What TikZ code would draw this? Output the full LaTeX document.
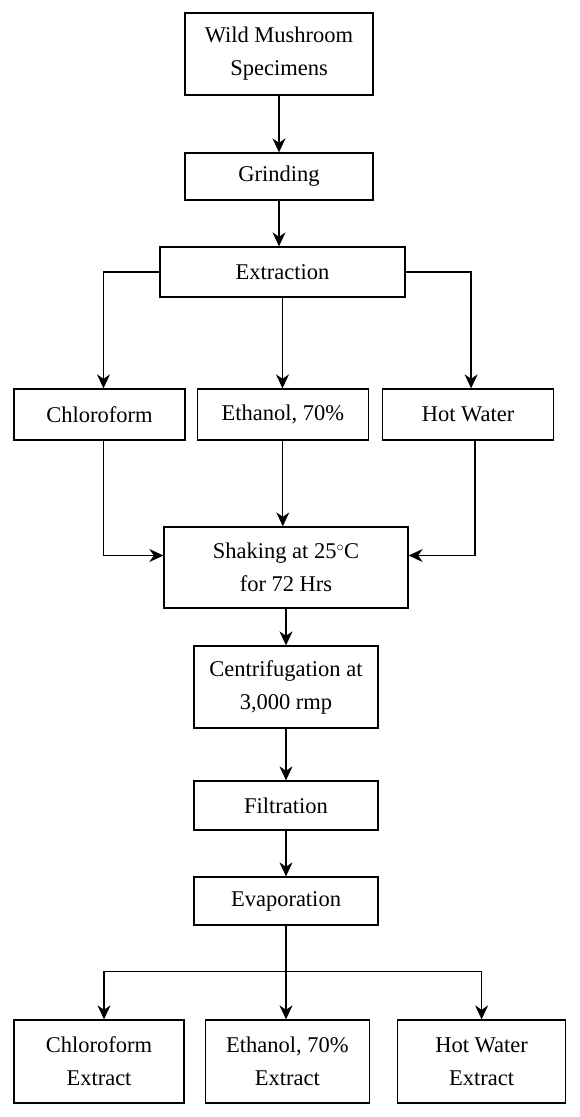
\documentclass[tikz,border=0pt]{standalone}
\usepackage{fontspec}
\setmainfont{Liberation Serif}
\usetikzlibrary{positioning,calc,arrows.meta}

\begin{document}
\begin{tikzpicture}[x=1pt,y=-1pt,
    box/.style={draw, line width=1.3pt, align=center, inner sep=0pt,
        font=\fontsize{22.5}{33}\selectfont},
    flow/.style={line width=1.3pt, -{Stealth[length=14pt,width=13pt,inset=4.5pt]}}]
\useasboundingbox (0,0) rectangle (579,1117);

\node (spec) [box, minimum width=188, minimum height=82] at (279,54) {Wild Mushroom\\Specimens};
\node (grind) [box, minimum width=188, minimum height=47] at (279,176.5) {Grinding};
\node (extr) [box, minimum width=245, minimum height=50] at (282.5,272) {Extraction};

\node (chl) [box, minimum width=171, minimum height=51] at (99.5,414.5) {Chloroform};
\node (eth) [box, right=11pt of chl, minimum width=171, minimum height=51] {Ethanol, 70\%};
\node (hot) [box, right=13pt of eth, minimum width=171, minimum height=51] {Hot Water};

\node (shake) [box, minimum width=244, minimum height=81] at (286,567.5) {Shaking at 25$^\circ$C\\for 72 Hrs};
\node (centr) [box, minimum width=184, minimum height=82] at (286,687) {Centrifugation at\\3,000 rmp};
\node (filt) [box, minimum width=184, minimum height=49] at (286,805.5) {Filtration};
\node (evap) [box, minimum width=184, minimum height=48] at (286,901) {Evaporation};

\node (chlx) [box, minimum width=170, minimum height=83] at (99,1061.5) {Chloroform\\Extract};
\node (ethx) [box, right=20pt of chlx, minimum width=164, minimum height=83] {Ethanol, 70\%\\Extract};
\node (hotx) [box, right=27pt of ethx, minimum width=168, minimum height=83] {Hot Water\\Extract};

% main column
\draw [flow] (spec) -- (grind);
\draw [flow] (grind.south) -- (grind.south |- extr.north);

% three solvents
\draw [flow] (extr.west) -| ([xshift=4pt]chl.north);
\draw [flow] (extr.south) -- (extr.south |- eth.north);
\draw [flow] (extr.east) -| ([xshift=3pt]hot.north);

\draw [flow] ([xshift=4pt]chl.south) |- ($ (shake.west) + (0,-12) $);
\draw [flow] (eth.south) -- (eth.south |- shake.north);
\draw [flow] ([xshift=7pt]hot.south) |- ($ (shake.east) + (0,-12) $);

\draw [flow] (shake) -- (centr);
\draw [flow] (centr) -- (filt);
\draw [flow] (filt) -- (evap);

% split into extracts
\coordinate (split) at ($ (evap.south) + (0,46) $);
\draw [line width=1.3pt] (evap.south) -- (split);
\draw [flow] (split) -- (split |- ethx.north);
\draw [flow] (split) -| ([xshift=5pt]chlx.north);
\draw [flow] (split) -| (hotx.north);

\end{tikzpicture}
\end{document}
